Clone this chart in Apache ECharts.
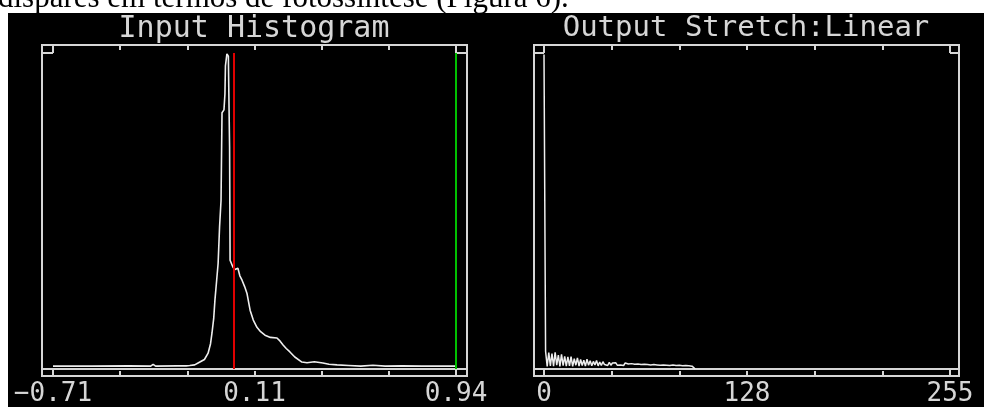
<!DOCTYPE html>
<html>
<head>
<meta charset="utf-8">
<script src="https://cdn.jsdelivr.net/npm/echarts@6/dist/echarts.min.js"></script>
<style>
html,body{margin:0;padding:0;background:#fff;}
#chart{width:984px;height:407px;}
</style>
</head>
<body>
<div id="chart"></div>
<script>
// ---- data ----
const captionText = 'díspares em termos de fotossíntese (Figura 6).';
const panelTitles = ['Input Histogram', 'Output Stretch:Linear'];

const inputRange = [-0.71, 0.94];
const inputTickLabels = ['−0.71', '', '', '0.11', '', '', '0.94'];
const inputX = [-0.71, -0.55, -0.40, -0.31, -0.30, -0.29, -0.20, -0.165, -0.16, -0.15, -0.13, -0.116, -0.09, -0.075, -0.065, -0.059, -0.052, -0.047, -0.040, -0.034, -0.028, -0.022, -0.018, -0.010, -0.006, -0.004, 0.002, 0.008, 0.010, 0.013, 0.015, 0.027, 0.035, 0.047, 0.055, 0.064, 0.075, 0.084, 0.097, 0.110, 0.125, 0.140, 0.158, 0.180, 0.207, 0.220, 0.232, 0.245, 0.260, 0.280, 0.309, 0.330, 0.360, 0.395, 0.420, 0.453, 0.500, 0.550, 0.600, 0.650, 0.720, 0.800, 0.940];
const inputY = [0.9, 0.9, 1.0, 0.9, 1.5, 0.9, 1.0, 1.0, 1.6, 1.1, 1.3, 1.9, 3.0, 5.0, 8.0, 11.4, 16.0, 21.8, 28.0, 33.4, 45.0, 53.3, 81.1, 82.0, 87.1, 95.9, 99.7, 99.0, 87.1, 70.0, 34.4, 32.2, 31.5, 31.9, 29.5, 28.1, 26.0, 24.0, 18.6, 15.5, 13.2, 11.8, 10.7, 10.0, 9.8, 8.8, 7.6, 6.5, 5.4, 3.8, 2.2, 2.0, 2.3, 1.9, 1.5, 1.3, 1.1, 0.9, 1.2, 0.9, 1.0, 0.9, 0.9];
const inputMarkers = [0.031, 0.94];

const outputRange = [0, 255];
const outputTickLabels = ['0', '', '', '128', '', '', '255'];
// counts for output values 0,1,2,... (relative %)
const outputCounts = [99.5, 5.6, 0.8, 5.2, 1.0, 4.9, 0.9, 5.3, 1.2, 4.4, 0.8, 4.6, 1.1, 4.0, 0.9, 3.8, 1.0, 3.9, 0.8, 3.3, 1.2, 3.5, 0.9, 3.0, 1.1, 2.8, 0.9, 3.1, 1.2, 2.6, 1.0, 2.4, 1.3, 2.7, 1.0, 2.2, 1.1, 2.3, 1.4, 2.0, 1.1, 2.1, 1.2, 1.9, 1.3, 2.0, 1.2, 1.8, 1.3, 1.7, 1.1, 1.9, 1.4, 1.6, 1.2, 1.7, 1.3, 1.5, 1.2, 1.6, 1.3, 1.4, 1.1, 1.5, 1.2, 1.4, 1.1, 1.3, 1.0, 1.4, 1.1, 1.3, 1.0, 1.2, 1.0, 1.3, 0.9, 1.2, 1.0, 1.1, 0.9, 1.3, 1.0, 1.1, 0.9, 1.2, 0.9, 1.0, 0.8, 1.1, 0.8, 1.0, 0.7, 0.9, 0.3, 0];

// ---- build ----
const FG = '#d6d6d6';
const MONO = 'DejaVu Sans Mono';
const inputData = inputX.map((x, i) => [x, inputY[i]]);
const outputData = outputCounts.map((c, i) => [i, c]);

function hiddenX(g) { return { type: 'value', gridIndex: g, show: false }; }
function hiddenY(g) { return { type: 'value', gridIndex: g, show: false }; }
function mainX(g, range, labels) {
  const step = (range[1] - range[0]) / 6;
  return {
    type: 'value', gridIndex: g, position: 'bottom', min: range[0], max: range[1], interval: step,
    axisLine: { show: true, onZero: false, lineStyle: { color: FG, width: 2 } },
    axisTick: { show: false }, splitLine: { show: false },
    axisLabel: {
      show: true, margin: 12, color: FG, fontFamily: MONO, fontSize: 26,
      showMinLabel: true, showMaxLabel: true,
      formatter: function (v) { const k = Math.round((v - range[0]) / step); return labels[k] || ''; }
    }
  };
}
function tickX(g, range, divisions, pos, offset, inside, len) {
  return {
    type: 'value', gridIndex: g, position: pos, offset: offset, min: range[0], max: range[1],
    interval: (range[1] - range[0]) / divisions,
    axisLine: { show: false, onZero: false },
    axisTick: { show: true, inside: inside, length: len, lineStyle: { color: FG, width: 2 } },
    axisLabel: { show: false }, splitLine: { show: false }
  };
}
function tickY(g, pos) {
  return {
    type: 'value', gridIndex: g, position: pos, min: 0, max: 100, interval: 100,
    axisLine: { show: false, onZero: false },
    axisTick: { show: true, length: 10, lineStyle: { color: FG, width: 2 } },
    axisLabel: { show: false }, splitLine: { show: false }
  };
}

const chart = echarts.init(document.getElementById('chart'), null, { renderer: 'canvas' });
chart.setOption({
  animation: false,
  backgroundColor: '#ffffff',
  title: [
    { text: captionText, left: -2, top: -17, padding: 0,
      textStyle: { color: '#000', fontFamily: 'Liberation Serif', fontSize: 31, fontWeight: 'normal' } },
    { text: panelTitles[0], left: 254, top: 14, padding: 0, textAlign: 'center',
      textStyle: { color: FG, fontFamily: MONO, fontSize: 30, fontWeight: 'normal' } },
    { text: panelTitles[1], left: 746, top: 14, padding: 0, textAlign: 'center',
      textStyle: { color: FG, fontFamily: MONO, fontSize: 29, fontWeight: 'normal' } }
  ],
  grid: [
    { left: 8, top: 13, right: 0, bottom: 0, show: true, backgroundColor: '#000', borderWidth: 0, outerBoundsMode: 'none' },
    { left: 42, top: 45, width: 425, height: 331, show: true, backgroundColor: 'transparent', borderColor: FG, borderWidth: 2, outerBoundsMode: 'none' },
    { left: 53, top: 53, width: 403, height: 316, show: false, outerBoundsMode: 'none' },
    { left: 534, top: 45, width: 425, height: 331, show: true, backgroundColor: 'transparent', borderColor: FG, borderWidth: 2, outerBoundsMode: 'none' },
    { left: 544, top: 53, width: 406, height: 316, show: false, outerBoundsMode: 'none' }
  ],
  xAxis: [
    hiddenX(0),
    hiddenX(1),
    mainX(2, inputRange, inputTickLabels),
    tickX(2, inputRange, 6, 'bottom', 7, true, 5),
    tickX(2, inputRange, 1, 'bottom', 0, false, 7),
    tickX(2, inputRange, 6, 'top', 8, true, 5),
    tickX(2, inputRange, 1, 'top', 0, false, 8),
    hiddenX(3),
    mainX(4, outputRange, outputTickLabels),
    tickX(4, outputRange, 6, 'bottom', 7, true, 5),
    tickX(4, outputRange, 1, 'bottom', 0, false, 7),
    tickX(4, outputRange, 6, 'top', 8, true, 5),
    tickX(4, outputRange, 1, 'top', 0, false, 8)
  ],
  yAxis: [
    hiddenY(0),
    hiddenY(1),
    tickY(2, 'left'),
    tickY(2, 'right'),
    hiddenY(3),
    tickY(4, 'left'),
    tickY(4, 'right')
  ],
  series: [
    {
      type: 'line', xAxisIndex: 2, yAxisIndex: 2, data: inputData,
      showSymbol: false, symbol: 'none', silent: true,
      lineStyle: { color: '#eeeeee', width: 1.6 },
      markLine: {
        silent: true, symbol: ['none', 'none'], label: { show: false },
        data: [
          { xAxis: inputMarkers[0], lineStyle: { color: '#e00000', width: 2, type: 'solid' } },
          { xAxis: inputMarkers[1], lineStyle: { color: '#00c000', width: 2, type: 'solid' } }
        ]
      }
    },
    {
      type: 'line', xAxisIndex: 8, yAxisIndex: 5, data: outputData,
      showSymbol: false, symbol: 'none', silent: true,
      lineStyle: { color: '#eeeeee', width: 1.5 }
    }
  ]
});
</script>
</body>
</html>
